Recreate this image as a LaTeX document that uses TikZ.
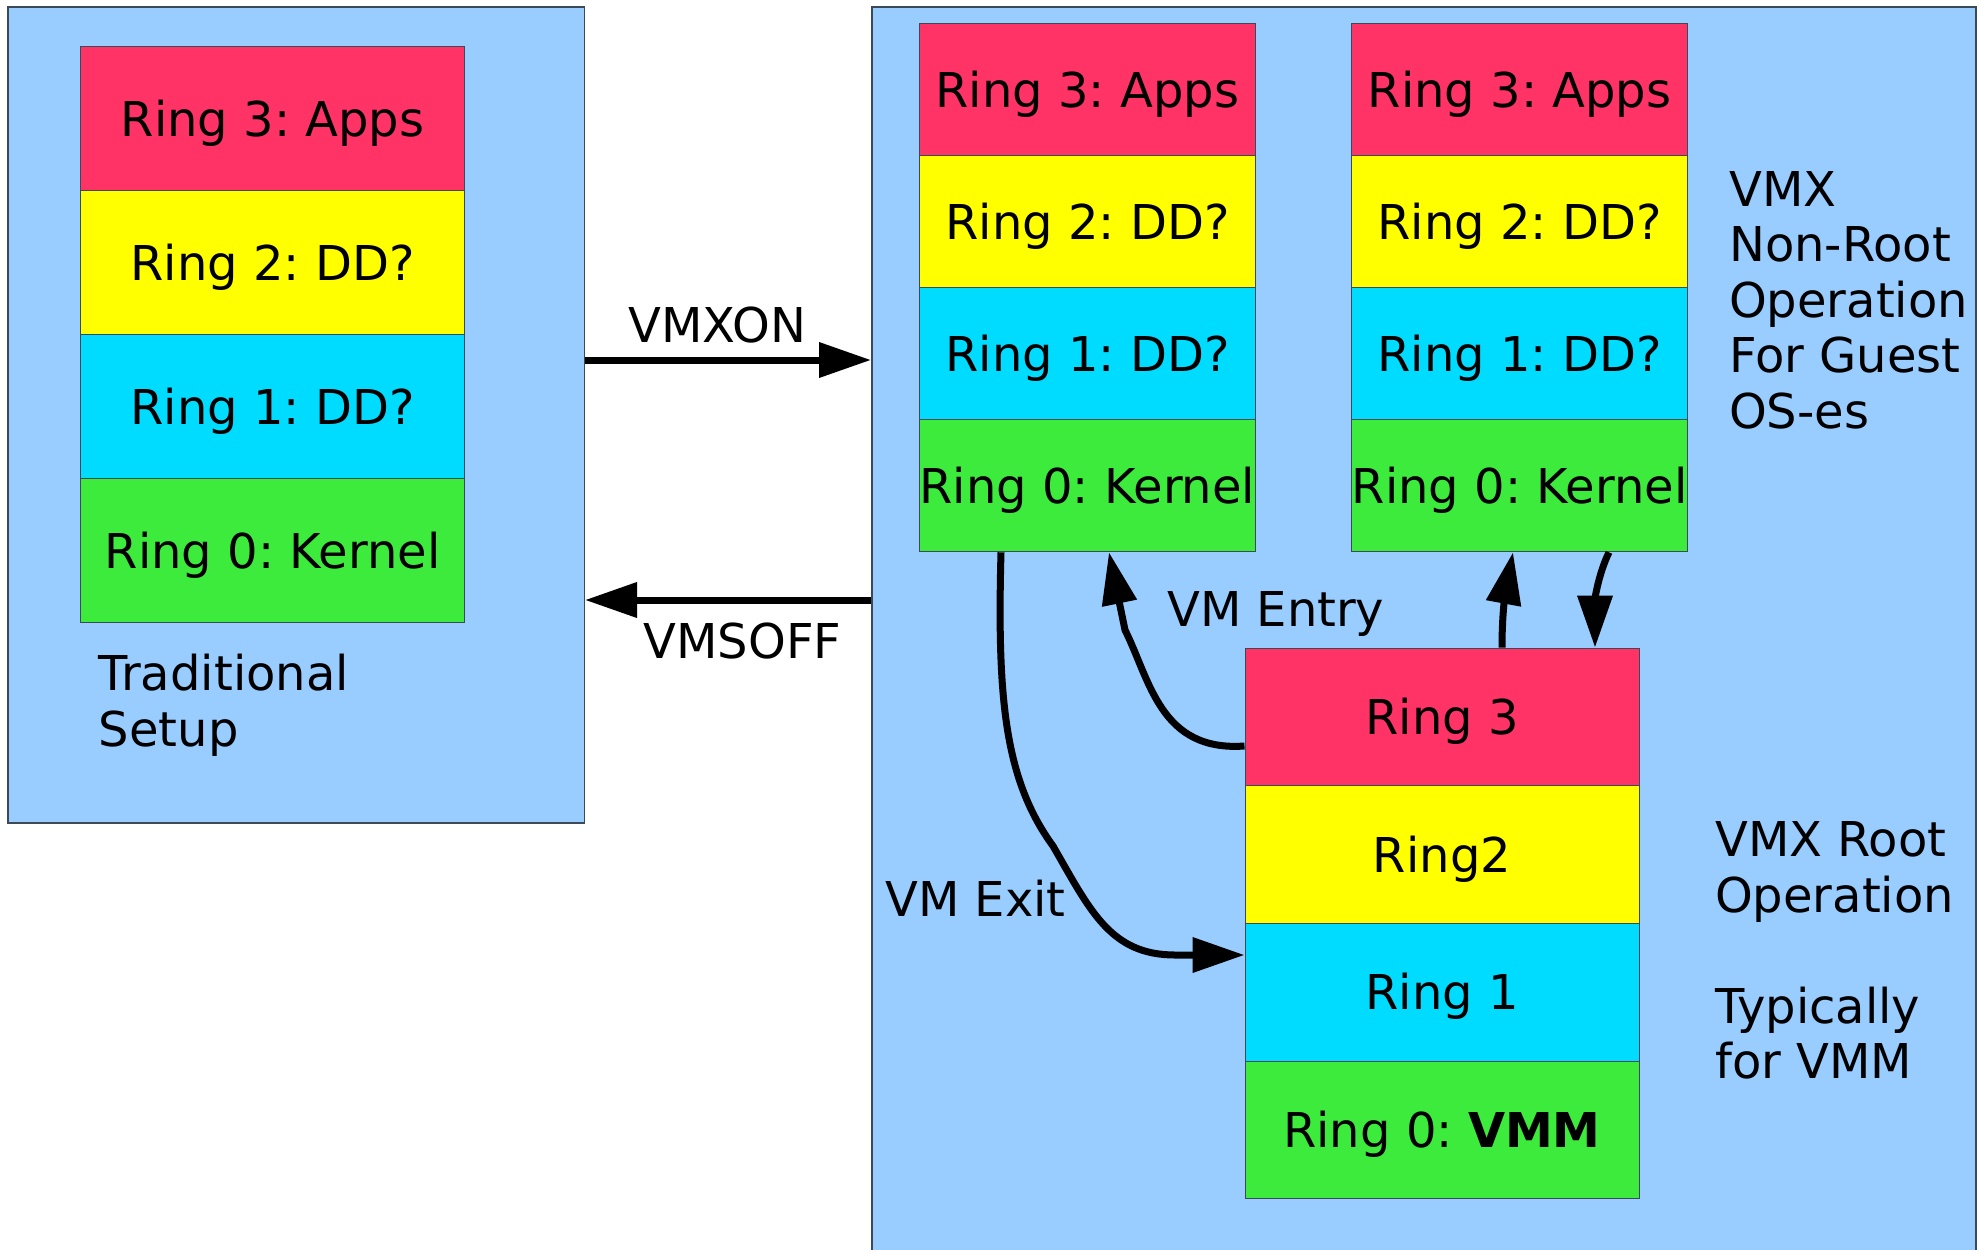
\documentclass[tikz,border=0pt]{standalone}
\usepackage{fontspec}
\setmainfont{DejaVu Sans}
\usetikzlibrary{arrows.meta}
\definecolor{bgblue}{HTML}{99CCFF}
\definecolor{rred}{HTML}{FF3366}
\definecolor{ryellow}{HTML}{FFFF00}
\definecolor{rcyan}{HTML}{00DCFF}
\definecolor{rgreen}{HTML}{3DEB3D}
\definecolor{edge}{HTML}{3C4A58}
\newcommand{\ringtext}[1]{\makebox[0pt]{#1}}
\frenchspacing
\begin{document}
\begin{tikzpicture}[x=1pt,y=-1pt,
  outerbox/.style={draw=edge,line width=1.5pt,fill=bgblue,inner sep=0pt,anchor=north west},
  ring/.style={draw=edge,line width=1pt,inner sep=0pt,font=\fontsize{48}{55}\selectfont,
     text height=35pt,text depth=0pt},
  lring/.style={ring,minimum width=384pt,minimum height=144pt},
  gring/.style={ring,minimum width=336pt,minimum height=132pt},
  vring/.style={ring,minimum width=394pt,minimum height=137.7pt},
  lbl/.style={font=\fontsize{48}{55.5}\selectfont,inner sep=0pt,anchor=base west,align=left},
  conn/.style={line width=7pt,-{Triangle[length=52pt,width=34pt]}}]
\useasboundingbox (0,0) rectangle (1984,1250);
\clip (0,0) rectangle (1984,1250);
% outer boxes
\node[outerbox,minimum width=576.5pt,minimum height=816pt] (lbox) at (7,6) {};
\node[outerbox,minimum width=1104pt,minimum height=1260pt] (rbox) at (871,6) {};
% traditional stack
\node[lring,fill=rred]    (l3) at (272.5,118.6) {\ringtext{Ring 3: Apps}};
\node[lring,fill=ryellow] (l2) at (272.5,262.6) {\ringtext{Ring 2: DD?}};
\node[lring,fill=rcyan]   (l1) at (272.5,406.6) {\ringtext{Ring 1: DD?}};
\node[lring,fill=rgreen]  (l0) at (272.5,550.6) {\ringtext{Ring 0: Kernel}};
% guest 1
\node[gring,fill=rred]    (a3) at (1087.4,89.7) {\ringtext{Ring 3: Apps}};
\node[gring,fill=ryellow] (a2) at (1087.4,221.8) {\ringtext{Ring 2: DD?}};
\node[gring,fill=rcyan]   (a1) at (1087.4,353.8) {\ringtext{Ring 1: DD?}};
\node[gring,fill=rgreen]  (a0) at (1087.4,485.8) {\ringtext{Ring 0: Kernel}};
% guest 2
\node[gring,fill=rred]    (b3) at (1519.5,89.7) {\ringtext{Ring 3: Apps}};
\node[gring,fill=ryellow] (b2) at (1519.5,221.8) {\ringtext{Ring 2: DD?}};
\node[gring,fill=rcyan]   (b1) at (1519.5,353.8) {\ringtext{Ring 1: DD?}};
\node[gring,fill=rgreen]  (b0) at (1519.5,485.8) {\ringtext{Ring 0: Kernel}};
% root
\node[vring,fill=rred]    (v3) at (1442,716.9) {\ringtext{Ring 3}};
\node[vring,fill=ryellow] (v2) at (1442,854.6) {\ringtext{Ring2}};
\node[vring,fill=rcyan]   (v1) at (1442,992.3) {\ringtext{Ring 1}};
\node[vring,fill=rgreen]  (v0) at (1442,1130) {\ringtext{Ring 0: \textbf{VMM}}};
% labels (base = baseline of last line)
\node[lbl] (trad) at (98.7,746) {Traditional\\Setup};
\node[lbl] (vmxon) at (628,342) {VMXON};
\node[lbl] (vmsoff) at (643.5,658.5) {VMSOFF};
\node[lbl] (entry) at (1167,626) {VM Entry};
\node[lbl] (exit) at (885,916) {VM Exit};
\node[lbl] (nonroot) at (1729,428) {VMX\\Non-Root\\Operation\\For Guest\\OS-es};
\node[lbl] (root) at (1715,912) {VMX Root\\Operation};
\node[lbl] (typ) at (1715,1078.6) {Typically\\for VMM};
% connectors
\draw[conn] (lbox.east |- 0,360) -- (rbox.west |- 0,360);
\draw[conn] (rbox.west |- 0,600) -- (lbox.east |- 0,600);
\draw[conn] (a0.south -| 1001,0) .. controls (997,700) and (1005,780) .. (1053,846)
   .. controls (1090,910) and (1110,955) .. (1175,955) -- (v1.west |- 0,955);
\draw[conn] (v3.west |- 0,746) .. controls (1160,752) and (1150,680) .. (1125,630) -- (a0.south -| 1109,0);
\draw[conn] (v3.north -| 1502,0) .. controls (1502,610) and (1506,590) .. (b0.south -| 1513,0);
\draw[conn] (b0.south -| 1609,0) .. controls (1598,575) and (1595,600) .. (v3.north -| 1595,0);
\end{tikzpicture}
\end{document}
